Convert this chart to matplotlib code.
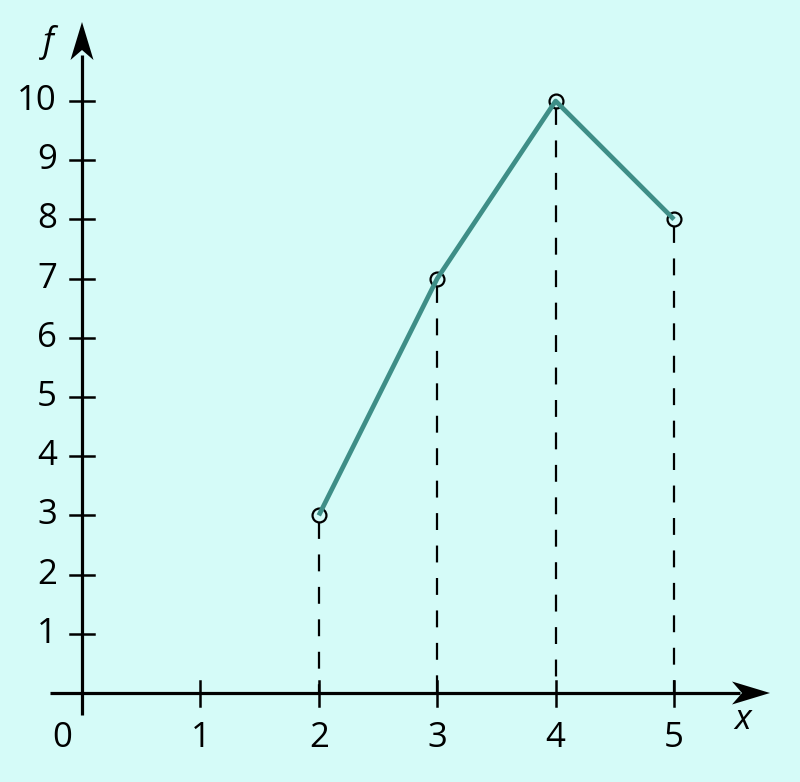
import matplotlib
matplotlib.use("Agg")
import matplotlib.pyplot as plt
from matplotlib.patches import Polygon
import numpy as np

# data
x_vals = [2, 3, 4, 5]
f_vals = [3, 7, 10, 8]
x_ticks = [0, 1, 2, 3, 4, 5]
y_ticks = [1, 2, 3, 4, 5, 6, 7, 8, 9, 10]

BG = "#d5fbf8"
TEAL = "#3e8e87"
W, H = 800, 782
fig = plt.figure(figsize=(W / 100, H / 100), dpi=100, facecolor=BG)
ax = fig.add_axes([0, 0, 1, 1])
ax.set_facecolor(BG)
ax.set_axis_off()

ox, oy = 82, 693        # origin pixel (from top)
sx, sy = 118.4, 59.2    # pixels per unit
ax.set_xlim(-ox / sx, (W - ox) / sx)
ax.set_ylim(-(H - oy) / sy, oy / sy)

def px(u):  # horizontal pixels -> data
    return u / sx
def py(u):
    return u / sy

# axes lines
ax.plot([px(50 - ox), px(740 - ox)], [0, 0], color="black", lw=2.3, solid_capstyle="butt", zorder=3)
ax.plot([0, 0], [-py(715 - oy), py(oy - 55)], color="black", lw=2.3, solid_capstyle="butt", zorder=3)

# arrow heads (stealth shape), in pixel offsets
def head(tipx, tipy, direction):
    L, Wd, notch = 38, 11.5, 10
    if direction == "right":
        pts = [(0, 0), (-L, Wd), (-L + notch, 0), (-L, -Wd)]
        verts = [(tipx + px(a), tipy + py(b)) for a, b in pts]
    else:
        pts = [(0, 0), (Wd, -L), (0, -L + notch), (-Wd, -L)]
        verts = [(tipx + px(a), tipy + py(b)) for a, b in pts]
    ax.add_patch(Polygon(verts, closed=True, color="black", zorder=4, lw=0))

head(px(770 - ox), 0, "right")
head(0, py(oy - 22), "up")

# ticks
for t in x_ticks[1:]:
    ax.plot([t, t], [-py(13), py(12)], color="black", lw=1.8, zorder=3)
for t in y_ticks:
    ax.plot([-px(12), px(12)], [t, t], color="black", lw=1.8, zorder=3)

font = "Open Sans"
fs = 25
for t in y_ticks:
    ax.text(-px(25), t, str(t), ha="right", va="center", fontsize=fs, family=font)
for t in x_ticks:
    xx = t if t != 0 else -px(20)
    ax.text(xx, -py(45), str(t), ha="center", va="center", fontsize=fs, family=font)

ax.text(-px(34), py(oy - 42), "f", ha="center", va="center", fontsize=fs, family=font, style="italic")
ax.text(px(743 - ox), -py(27), "x", ha="center", va="center", fontsize=fs, family=font, style="italic")

# dashed drop lines
for xv, fv in zip(x_vals, f_vals):
    ax.plot([xv, xv], [fv - py(7), 0], color="black", lw=1.6, dashes=(7.6, 7.0), zorder=2)

# polygon line and markers
ax.plot(x_vals, f_vals, color=TEAL, lw=3.4, zorder=6, solid_capstyle="butt")
ax.plot(x_vals, f_vals, "o", ms=10, mfc="none", mec="black", mew=1.6, zorder=5)

fig.savefig("out.png", dpi=100, facecolor=BG)
